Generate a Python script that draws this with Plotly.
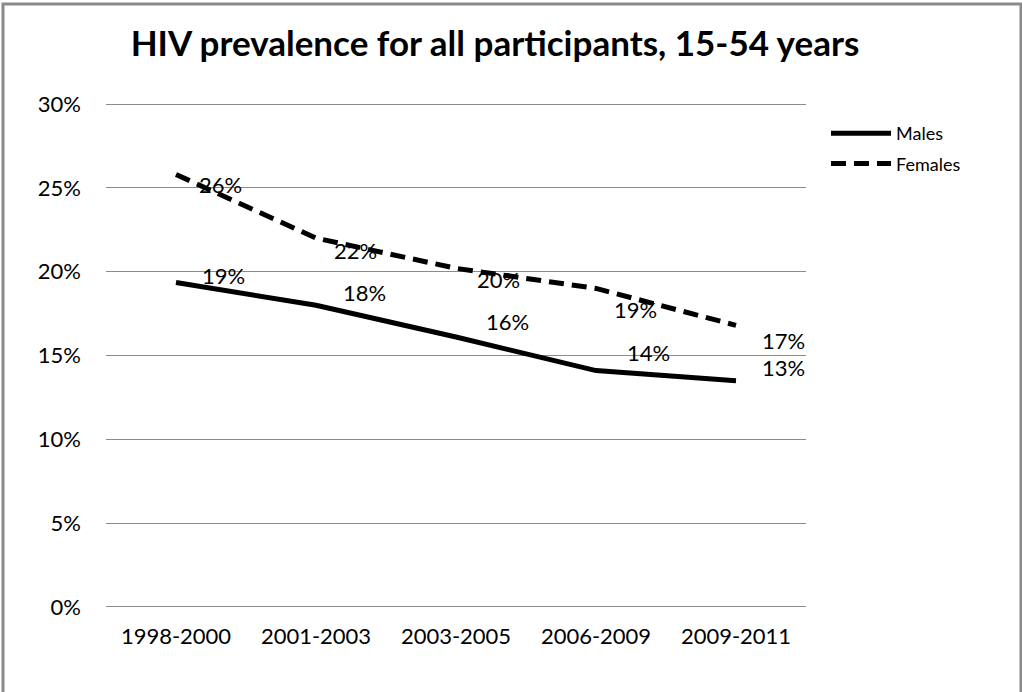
import plotly.graph_objects as go

categories = ["1998-2000", "2001-2003", "2003-2005", "2006-2009", "2009-2011"]
males = [19.35, 18.0, 16.1, 14.1, 13.5]
females = [25.8, 22.0, 20.2, 19.0, 16.8]
male_labels = ["19%", "18%", "16%", "14%", "13%"]
female_labels = ["26%", "22%", "20%", "19%", "17%"]
y_ticks = [0, 5, 10, 15, 20, 25, 30]
y_tick_text = ["0%", "5%", "10%", "15%", "20%", "25%", "30%"]

# label pixel offsets (style)
male_shift = [(47, 7), (48, 13), (51, 16), (52, 18), (47, 13)]
female_shift = [(44, -10), (39, -12), (42, -11), (39, -21), (47, -15)]

FONT = "Lato, 'Open Sans', sans-serif"

fig = go.Figure()
fig.add_trace(go.Scatter(x=categories, y=males, mode="lines", name="Males",
                         legendgroup="m",
                         line=dict(color="black", width=5)))
fig.add_trace(go.Scatter(x=categories, y=females, mode="lines", name="Females",
                         legendgroup="f",
                         line=dict(color="black", width=5, dash="15px,8px")))

for c, v, t, (dx, dy) in zip(categories, males, male_labels, male_shift):
    fig.add_annotation(x=c, y=v, text=t, showarrow=False, xshift=dx, yshift=dy,
                       font=dict(size=22, color="black", family=FONT))
for c, v, t, (dx, dy) in zip(categories, females, female_labels, female_shift):
    fig.add_annotation(x=c, y=v, text=t, showarrow=False, xshift=dx, yshift=dy,
                       font=dict(size=22, color="black", family=FONT))

PT, PB = 102, 83
PH = 692 - PT - PB

fig.add_shape(type="rect", xref="paper", yref="paper",
              x0=(3 - 106) / 700, x1=(1021 - 106) / 700,
              y0=(692 - PB - 700) / PH, y1=(692 - PB - 4) / PH,
              line=dict(color="#8a8a8a", width=3), fillcolor="rgba(0,0,0,0)",
              layer="below")

fig.update_layout(
    width=1022, height=692,
    margin=dict(l=106, r=216, t=PT, b=PB, autoexpand=False),
    paper_bgcolor="white", plot_bgcolor="white",
    font=dict(family=FONT, color="black"),
    title=dict(text="<b>HIV prevalence for all participants, 15-54 years</b>",
               x=495 / 1022, xanchor="center", y=1 - 44 / 692, yanchor="middle",
               font=dict(size=35, color="black", family=FONT)),
    showlegend=True,
    legend=dict(x=(826 - 106) / 700, y=(692 - PB - 115) / PH, xanchor="left", yanchor="top",
                font=dict(size=18, color="black", family=FONT),
                bgcolor="rgba(0,0,0,0)", tracegroupgap=4, itemwidth=60),
    xaxis=dict(showgrid=False, showline=False, ticks="", zeroline=False,
               range=[-0.5, 4.5], automargin=False,
               tickfont=dict(size=22, color="black", family=FONT),
               ticklabelstandoff=12),
    yaxis=dict(range=[-0.12, 30.12], tickvals=y_ticks, ticktext=y_tick_text,
               showgrid=True, gridcolor="#8c8c8c", gridwidth=1,
               showline=False, zeroline=False, ticks="", automargin=False,
               tickfont=dict(size=22, color="black", family=FONT),
               ticklabelstandoff=24),
)

fig.write_html("out.html", config={"displayModeBar": False},
               post_script="document.body.style.margin='0';document.body.style.overflow='hidden';")
